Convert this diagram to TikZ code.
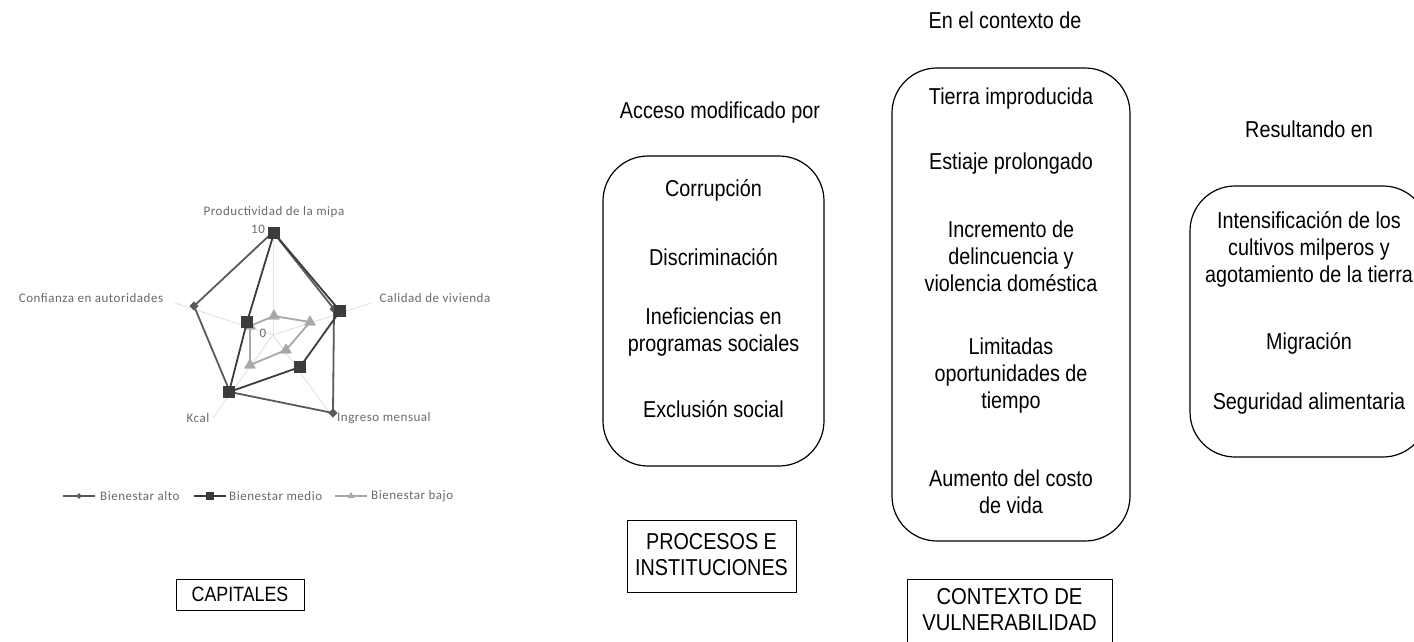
\documentclass[tikz,border=0pt]{standalone}
\usepackage{fontspec}
\setmainfont{Liberation Sans}
\newfontfamily\nar[FakeStretch=0.86]{Liberation Sans}
\newfontfamily\narb[FakeStretch=0.88]{Liberation Sans}
\newfontfamily\chartfont[LetterSpace=4]{Carlito}
\usetikzlibrary{shapes.geometric}
\definecolor{altoc}{HTML}{5A5A5A}
\definecolor{medioc}{HTML}{3C3C3C}
\definecolor{bajoc}{HTML}{A8A8A8}
\definecolor{spokec}{HTML}{E4E4E4}
\definecolor{lblc}{HTML}{6A6A6A}
\begin{document}
\begin{tikzpicture}[x=1pt,y=-1pt,
  txt/.style={font=\nar\fontsize{23}{27}\selectfont, inner sep=0pt, align=center},
  rbox/.style={draw, line width=1.2pt, rounded corners=45pt, inner sep=0pt},
  sbox/.style={draw, line width=1pt, inner sep=0pt},
  lbl/.style={font=\chartfont\fontsize{13}{15}\selectfont, text=lblc, inner sep=0pt},
  altoline/.style={draw=altoc, line width=1.8pt, line join=round},
  medioline/.style={draw=medioc, line width=1.8pt, line join=round},
  bajoline/.style={draw=bajoc, line width=1.8pt, line join=round},
  altomark/.style={diamond, fill=altoc, inner sep=0pt, minimum size=9pt},
  mediomark/.style={rectangle, fill=medioc, inner sep=0pt, minimum size=12pt},
  bajomark/.style={regular polygon, regular polygon sides=3, fill=bajoc, inner sep=0pt, minimum size=13pt},
  spoke/.style={draw=spokec, line width=1pt}]
\useasboundingbox (0,0) rectangle (1414,641);
\fill[white] (0,0) rectangle (1414,641);

% ---------- radar chart ----------
\coordinate (c) at (273,335);
\coordinate (ep) at (273,232);
\coordinate (ec) at (371,303.2);
\coordinate (ei) at (333.5,418.3);
\coordinate (ek) at (212.5,418.3);
\coordinate (ef) at (175,303.2);
\foreach \e in {ep,ec,ei,ek,ef} \draw[spoke] (c) -- (\e);

% bajo
\node[bajomark] (t1) at (274,316) {};
\node[bajomark] (t2) at (310,322) {};
\node[bajomark] (t3) at (286,350) {};
\node[bajomark] (t4) at (250,365) {};
\node[bajomark] (t5) at (250,326) {};
\draw[bajoline] (t1.center) -- (t2.center) -- (t3.center) -- (t4.center) -- (t5.center) -- cycle;
\foreach \n in {t1,t2,t3,t4,t5} \node[bajomark] at (\n) {};

% alto
\node[altomark] (a1) at (273,232) {};
\node[altomark] (a2) at (334,309) {};
\node[altomark] (a3) at (333,413) {};
\node[altomark] (a4) at (230,392) {};
\node[altomark] (a5) at (194,306) {};
\draw[altoline] (a1.center) -- (a2.center) -- (a3.center) -- (a4.center) -- (a5.center) -- cycle;
\foreach \n in {a1,a2,a3,a4,a5} \node[altomark] at (\n) {};

% medio
\node[mediomark] (m1) at (274,233) {};
\node[mediomark] (m2) at (340,311) {};
\node[mediomark] (m3) at (300,367) {};
\node[mediomark] (m4) at (229,392) {};
\node[mediomark] (m5) at (247,322) {};
\draw[medioline] (m1.center) -- (m2.center) -- (m3.center) -- (m4.center) -- (m5.center) -- cycle;
\foreach \n in {m1,m2,m3,m4,m5} \node[mediomark] at (\n) {};

% axis labels
\node[lbl] (lp) at (274,212) {Productividad de la mipa};
\node[lbl] (l10) at (258,229) {10};
\node[lbl] (l0) at (263,333) {0};
\node[lbl] (lc) at (435,298) {Calidad de vivienda};
\node[lbl] (lf) at (91,298) {Confianza en autoridades};
\node[lbl] (lk) at (198,418) {Kcal};
\node[lbl, anchor=west] (li) at (337,418) {Ingreso mensual};

% legend
\coordinate (la0) at (63,496); \coordinate (la1) at (95,496);
\coordinate (lm0) at (194,496); \coordinate (lm1) at (226,496);
\coordinate (lb0) at (335,496); \coordinate (lb1) at (367,496);
\draw[altoline, line width=1.4pt] (la0) -- (la1);
\node[altomark, minimum size=6pt] (lam) at (79,496) {};
\node[lbl, anchor=west] (lat) at (100,496) {Bienestar alto};
\draw[medioline, line width=1.4pt] (lm0) -- (lm1);
\node[mediomark, minimum size=8pt] (lmm) at (210,496) {};
\node[lbl, anchor=west] (lmt) at (229,496) {Bienestar medio};
\draw[bajoline, line width=1.4pt] (lb0) -- (lb1);
\node[bajomark, minimum size=8pt] (lbm) at (351,496) {};
\node[lbl, anchor=west] (lbt) at (371,496) {Bienestar bajo};

\node[sbox, minimum width=128pt, minimum height=31pt] (capbox) at (240,594.5) {};
\node[txt, font=\nar\fontsize{20.7}{24}\selectfont] (cap) at (240,594.5) {CAPITALES};

% ---------- procesos ----------
\node[txt] (h1) at (720,113) {Acceso modificado por};
\node[rbox, minimum width=221pt, minimum height=310pt] (b1) at (713.5,311) {};
\node[txt] (b1a) at (713.5,190) {Corrupción};
\node[txt] (b1b) at (713.5,257) {Discriminación};
\node[txt] (b1c) at (713.5,332) {Ineficiencias en\\programas sociales};
\node[txt] (b1d) at (713.5,409) {Exclusión social};
\node[sbox, minimum width=169pt, minimum height=72pt] (pbox) at (711.5,556) {};
\node[txt, font=\nar\fontsize{23}{26}\selectfont] (pt) at (711.5,555) {PROCESOS E\\INSTITUCIONES};

% ---------- contexto ----------
\node[txt] (h2) at (1005,20) {En el contexto de};
\node[rbox, minimum width=238pt, minimum height=473pt] (b2) at (1011,304.5) {};
\node[txt] (b2a) at (1011,99) {Tierra improducida};
\node[txt] (b2b) at (1011,164) {Estiaje prolongado};
\node[txt] (b2c) at (1011,256) {Incremento de\\delincuencia y\\violencia doméstica};
\node[txt] (b2d) at (1011,376) {Limitadas\\oportunidades de\\tiempo};
\node[txt] (b2e) at (1011,492) {Aumento del costo\\de vida};
\node[sbox, minimum width=205pt, minimum height=68pt] (vbox) at (1009.5,613) {};
\node[txt, font=\narb\fontsize{23}{26}\selectfont] (vt) at (1009.5,610) {CONTEXTO DE\\VULNERABILIDAD};

% ---------- resultados ----------
\node[txt] (h3) at (1309,129) {Resultando en};
\node[rbox, minimum width=238pt, minimum height=271pt] (b3) at (1309,321.5) {};
\node[txt] (b3a) at (1309,249) {Intensificación de los\\cultivos milperos y\\agotamiento de la tierra};
\node[txt] (b3b) at (1309,343) {Migración};
\node[txt] (b3c) at (1309,404) {Seguridad alimentaria};
\end{tikzpicture}
\end{document}
